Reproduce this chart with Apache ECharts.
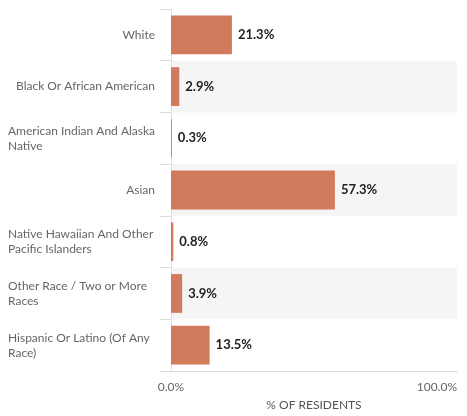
<!DOCTYPE html>
<html>
<head>
<meta charset="utf-8">
<script src="https://cdn.jsdelivr.net/npm/echarts@6/dist/echarts.min.js"></script>
<style>
  html, body { margin: 0; padding: 0; background: #fff; }
  #chart { width: 467px; height: 416px; }
</style>
</head>
<body>
<div id="chart"></div>
<script>
// race breakdown, % of residents
var categories = [
    'White',
    'Black Or African American',
    'American Indian And Alaska Native',
    'Asian',
    'Native Hawaiian And Other Pacific Islanders',
    'Other Race / Two or More Races',
    'Hispanic Or Latino (Of Any Race)'
];
var shares = [21.3, 2.9, 0.3, 57.3, 0.8, 3.9, 13.5];
var axisMin = 0;
var axisMax = 100;

var labelFont = '12px Lato';
var labelWidth = 150;

// wrap a label into lines that fit labelWidth
var ctx = document.createElement('canvas').getContext('2d');
ctx.font = labelFont;
function wrap(text) {
    var words = text.split(' ');
    var lines = [];
    var cur = '';
    words.forEach(function (w) {
        var t = cur ? cur + ' ' + w : w;
        if (cur && ctx.measureText(t).width > labelWidth) {
            lines.push(cur);
            cur = w;
        } else {
            cur = t;
        }
    });
    if (cur) lines.push(cur);
    return lines;
}

var myChart = echarts.init(document.getElementById('chart'));

var option = {
    animation: false,
    grid: {
        left: 171,
        right: 10,
        top: 9,
        bottom: 44,
        containLabel: false
    },
    xAxis: {
        type: 'value',
        min: axisMin,
        max: axisMax,
        interval: 100,
        name: '% OF RESIDENTS',
        nameLocation: 'middle',
        nameGap: 28,
        nameTextStyle: {
            fontFamily: 'Lato',
            fontSize: 12,
            color: '#555'
        },
        axisLine: { show: true, lineStyle: { color: '#dcdcdc' } },
        axisTick: { show: false },
        splitLine: { show: false },
        axisLabel: {
            fontFamily: 'Lato',
            fontSize: 12,
            color: '#666',
            margin: 10,
            alignMaxLabel: 'right',
            formatter: function (v) { return v.toFixed(1) + '%'; }
        }
    },
    yAxis: {
        type: 'category',
        inverse: true,
        data: categories,
        axisLine: { show: true, lineStyle: { color: '#e2e2e2' } },
        axisTick: { show: true, length: 11, lineStyle: { color: '#dcdcdc' } },
        splitArea: {
            show: true,
            areaStyle: { color: ['rgba(255,255,255,0)', '#f5f5f5'] }
        },
        axisLabel: {
            fontFamily: 'Lato',
            fontSize: 12,
            color: '#666',
            margin: 16,
            lineHeight: 15,
            formatter: function (v) {
                var lines = wrap(v);
                if (lines.length === 1) return v;
                return '{w|' + lines.join('\n') + '}';
            },
            rich: {
                w: {
                    width: 147,
                    align: 'left',
                    fontFamily: 'Lato',
                    fontSize: 12,
                    color: '#666',
                    lineHeight: 15
                }
            }
        }
    },
    series: [{
        type: 'bar',
        data: shares,
        barCategoryGap: '25%',
        itemStyle: { color: '#d27a5c' },
        label: {
            show: true,
            position: 'right',
            distance: 6,
            fontFamily: 'Lato',
            fontSize: 13,
            fontWeight: 'bold',
            color: '#222',
            formatter: function (p) { return p.value.toFixed(1) + '%'; }
        }
    }]
};
myChart.setOption(option);
</script>
</body>
</html>
